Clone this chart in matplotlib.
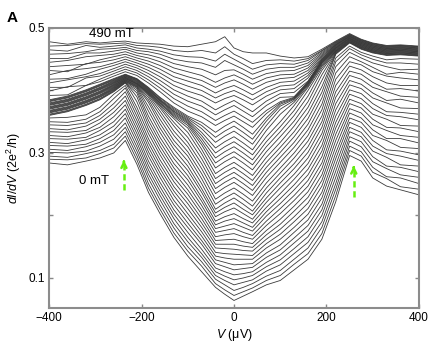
import numpy as np
import matplotlib
matplotlib.use("Agg")
from matplotlib import pyplot as plt

plt.rcParams['font.family'] = ['Liberation Sans', 'DejaVu Sans']
plt.rcParams['mathtext.fontset'] = 'custom'
plt.rcParams['mathtext.rm'] = 'Liberation Sans'
plt.rcParams['mathtext.it'] = 'Liberation Sans:italic'

# bias nodes (uV) and field of each trace (mT, 0..490 in 10 mT steps)
bias = [-400, -360, -320, -290, -260, -235, -210, -185, -160, -130, -100, -70, -40, -20,
        0, 20, 40, 70, 100, 130, 160, 190, 220, 250, 275, 300, 330, 360, 400]
fields = list(range(0, 500, 10))

# dI/dV (2e^2/h) of every trace at each bias node, lowest (0 mT) trace first
g_m400 = [0.284, 0.290, 0.295, 0.301, 0.306, 0.312, 0.317, 0.323, 0.328, 0.334,
          0.339, 0.345, 0.350, 0.356, 0.360, 0.361, 0.362, 0.364, 0.365, 0.366,
          0.367, 0.368, 0.370, 0.371, 0.372, 0.373, 0.374, 0.376, 0.377, 0.378,
          0.379, 0.380, 0.382, 0.383, 0.384, 0.385, 0.392, 0.399, 0.405, 0.412,
          0.418, 0.425, 0.432, 0.438, 0.445, 0.451, 0.458, 0.465, 0.471, 0.478]
g_m360 = [0.281, 0.289, 0.293, 0.300, 0.304, 0.311, 0.315, 0.322, 0.326, 0.333,
          0.337, 0.344, 0.349, 0.357, 0.366, 0.367, 0.368, 0.370, 0.371, 0.372,
          0.373, 0.374, 0.376, 0.377, 0.378, 0.379, 0.380, 0.382, 0.383, 0.384,
          0.385, 0.386, 0.388, 0.389, 0.390, 0.391, 0.393, 0.406, 0.405, 0.417,
          0.419, 0.432, 0.430, 0.440, 0.448, 0.451, 0.459, 0.463, 0.472, 0.474]
g_m320 = [0.287, 0.292, 0.299, 0.303, 0.310, 0.314, 0.321, 0.325, 0.332, 0.336,
          0.343, 0.348, 0.354, 0.361, 0.376, 0.377, 0.378, 0.380, 0.381, 0.382,
          0.383, 0.384, 0.386, 0.387, 0.388, 0.389, 0.390, 0.392, 0.393, 0.394,
          0.395, 0.396, 0.398, 0.399, 0.400, 0.401, 0.408, 0.408, 0.420, 0.422,
          0.426, 0.435, 0.443, 0.442, 0.454, 0.460, 0.462, 0.472, 0.475, 0.478]
g_m290 = [0.292, 0.299, 0.304, 0.311, 0.317, 0.323, 0.329, 0.336, 0.341, 0.348,
          0.354, 0.360, 0.366, 0.373, 0.385, 0.386, 0.387, 0.389, 0.390, 0.391,
          0.392, 0.393, 0.395, 0.396, 0.397, 0.398, 0.399, 0.401, 0.402, 0.403,
          0.404, 0.405, 0.407, 0.408, 0.409, 0.410, 0.414, 0.418, 0.423, 0.427,
          0.434, 0.438, 0.445, 0.449, 0.456, 0.460, 0.466, 0.469, 0.474, 0.476]
g_m260 = [0.300, 0.308, 0.314, 0.322, 0.329, 0.336, 0.343, 0.350, 0.358, 0.365,
          0.372, 0.379, 0.387, 0.394, 0.398, 0.399, 0.400, 0.401, 0.402, 0.403,
          0.404, 0.405, 0.406, 0.407, 0.408, 0.409, 0.410, 0.411, 0.412, 0.413,
          0.414, 0.415, 0.416, 0.417, 0.418, 0.419, 0.423, 0.427, 0.431, 0.435,
          0.440, 0.444, 0.449, 0.454, 0.458, 0.463, 0.467, 0.471, 0.475, 0.478]
g_m235 = [0.320, 0.327, 0.334, 0.341, 0.348, 0.356, 0.363, 0.370, 0.377, 0.384,
          0.391, 0.398, 0.404, 0.408, 0.412, 0.413, 0.413, 0.414, 0.415, 0.415,
          0.416, 0.417, 0.417, 0.418, 0.419, 0.419, 0.420, 0.421, 0.421, 0.422,
          0.423, 0.423, 0.424, 0.425, 0.425, 0.426, 0.430, 0.434, 0.438, 0.442,
          0.446, 0.450, 0.454, 0.458, 0.462, 0.466, 0.469, 0.473, 0.476, 0.479]
g_m210 = [0.282, 0.289, 0.296, 0.303, 0.310, 0.317, 0.324, 0.331, 0.338, 0.345,
          0.352, 0.359, 0.366, 0.373, 0.382, 0.390, 0.396, 0.400, 0.403, 0.405,
          0.406, 0.407, 0.408, 0.409, 0.410, 0.411, 0.411, 0.412, 0.413, 0.414,
          0.415, 0.416, 0.417, 0.418, 0.418, 0.419, 0.424, 0.428, 0.432, 0.436,
          0.440, 0.444, 0.448, 0.452, 0.456, 0.460, 0.464, 0.468, 0.472, 0.476]
g_m185 = [0.237, 0.244, 0.251, 0.259, 0.266, 0.273, 0.280, 0.287, 0.295, 0.302,
          0.309, 0.316, 0.323, 0.331, 0.338, 0.345, 0.352, 0.359, 0.367, 0.374,
          0.381, 0.385, 0.389, 0.392, 0.394, 0.395, 0.396, 0.397, 0.398, 0.399,
          0.400, 0.401, 0.402, 0.403, 0.404, 0.405, 0.412, 0.417, 0.422, 0.427,
          0.432, 0.437, 0.442, 0.447, 0.452, 0.457, 0.462, 0.466, 0.471, 0.475]
g_m160 = [0.203, 0.210, 0.217, 0.225, 0.232, 0.239, 0.246, 0.253, 0.261, 0.268,
          0.275, 0.282, 0.289, 0.297, 0.304, 0.311, 0.318, 0.325, 0.333, 0.340,
          0.347, 0.354, 0.361, 0.367, 0.372, 0.375, 0.377, 0.379, 0.380, 0.381,
          0.383, 0.384, 0.385, 0.386, 0.388, 0.389, 0.398, 0.404, 0.410, 0.416,
          0.422, 0.428, 0.434, 0.440, 0.446, 0.452, 0.458, 0.463, 0.469, 0.474]
g_m130 = [0.165, 0.172, 0.180, 0.187, 0.195, 0.202, 0.209, 0.217, 0.224, 0.232,
          0.239, 0.246, 0.254, 0.261, 0.269, 0.276, 0.283, 0.291, 0.298, 0.306,
          0.313, 0.320, 0.328, 0.335, 0.343, 0.349, 0.355, 0.358, 0.360, 0.362,
          0.364, 0.366, 0.367, 0.369, 0.371, 0.373, 0.380, 0.387, 0.394, 0.401,
          0.408, 0.415, 0.422, 0.429, 0.436, 0.443, 0.450, 0.457, 0.464, 0.471]
g_m100 = [0.135, 0.143, 0.150, 0.158, 0.165, 0.173, 0.181, 0.188, 0.196, 0.203,
          0.211, 0.219, 0.226, 0.234, 0.241, 0.249, 0.257, 0.264, 0.272, 0.279,
          0.287, 0.295, 0.302, 0.310, 0.317, 0.325, 0.333, 0.340, 0.344, 0.347,
          0.349, 0.351, 0.353, 0.355, 0.357, 0.359, 0.367, 0.375, 0.383, 0.391,
          0.399, 0.407, 0.415, 0.422, 0.430, 0.438, 0.446, 0.454, 0.462, 0.470]
g_m70 = [0.110, 0.119, 0.126, 0.133, 0.139, 0.146, 0.154, 0.160, 0.167, 0.174,
         0.181, 0.188, 0.195, 0.202, 0.209, 0.216, 0.223, 0.229, 0.237, 0.243,
         0.251, 0.259, 0.267, 0.275, 0.283, 0.291, 0.299, 0.306, 0.313, 0.318,
         0.323, 0.328, 0.333, 0.339, 0.344, 0.349, 0.358, 0.366, 0.375, 0.383,
         0.392, 0.400, 0.408, 0.416, 0.424, 0.434, 0.444, 0.453, 0.464, 0.474]
g_m40 = [0.085, 0.091, 0.098, 0.104, 0.110, 0.116, 0.123, 0.129, 0.135, 0.141,
         0.148, 0.154, 0.160, 0.166, 0.173, 0.179, 0.185, 0.191, 0.198, 0.204,
         0.210, 0.218, 0.226, 0.235, 0.243, 0.251, 0.259, 0.267, 0.276, 0.284,
         0.292, 0.300, 0.308, 0.317, 0.325, 0.333, 0.344, 0.352, 0.361, 0.369,
         0.380, 0.388, 0.396, 0.405, 0.413, 0.425, 0.437, 0.447, 0.460, 0.478]
g_m20 = [0.074, 0.081, 0.089, 0.096, 0.103, 0.110, 0.118, 0.125, 0.132, 0.139,
         0.147, 0.154, 0.161, 0.169, 0.176, 0.183, 0.191, 0.198, 0.206, 0.213,
         0.220, 0.228, 0.236, 0.245, 0.253, 0.261, 0.269, 0.277, 0.286, 0.294,
         0.302, 0.310, 0.318, 0.327, 0.335, 0.343, 0.352, 0.360, 0.369, 0.377,
         0.387, 0.395, 0.403, 0.412, 0.420, 0.432, 0.448, 0.458, 0.470, 0.486]
g_0 = [0.064, 0.072, 0.080, 0.089, 0.097, 0.105, 0.113, 0.121, 0.130, 0.138,
       0.146, 0.154, 0.162, 0.171, 0.179, 0.187, 0.195, 0.203, 0.212, 0.220,
       0.228, 0.236, 0.244, 0.253, 0.261, 0.269, 0.277, 0.285, 0.294, 0.302,
       0.310, 0.318, 0.326, 0.335, 0.343, 0.351, 0.359, 0.367, 0.376, 0.384,
       0.392, 0.400, 0.408, 0.417, 0.425, 0.433, 0.441, 0.450, 0.458, 0.468]
g_20 = [0.071, 0.078, 0.085, 0.093, 0.100, 0.107, 0.115, 0.122, 0.130, 0.137,
        0.144, 0.151, 0.158, 0.166, 0.173, 0.181, 0.188, 0.195, 0.203, 0.210,
        0.218, 0.226, 0.234, 0.243, 0.251, 0.259, 0.267, 0.275, 0.284, 0.292,
        0.300, 0.308, 0.316, 0.325, 0.333, 0.341, 0.350, 0.358, 0.367, 0.375,
        0.385, 0.393, 0.401, 0.410, 0.418, 0.426, 0.434, 0.442, 0.451, 0.462]
g_40 = [0.078, 0.084, 0.091, 0.097, 0.104, 0.110, 0.117, 0.123, 0.130, 0.136,
        0.143, 0.149, 0.155, 0.162, 0.168, 0.175, 0.181, 0.188, 0.194, 0.201,
        0.207, 0.215, 0.223, 0.232, 0.240, 0.248, 0.256, 0.264, 0.273, 0.281,
        0.289, 0.297, 0.305, 0.314, 0.322, 0.330, 0.341, 0.349, 0.358, 0.366,
        0.377, 0.385, 0.393, 0.402, 0.410, 0.418, 0.426, 0.434, 0.443, 0.460]
g_70 = [0.089, 0.096, 0.103, 0.111, 0.118, 0.125, 0.133, 0.140, 0.148, 0.155,
        0.162, 0.169, 0.176, 0.184, 0.191, 0.199, 0.206, 0.213, 0.221, 0.228,
        0.236, 0.244, 0.252, 0.261, 0.269, 0.277, 0.285, 0.293, 0.302, 0.310,
        0.318, 0.326, 0.336, 0.344, 0.351, 0.356, 0.363, 0.368, 0.376, 0.383,
        0.391, 0.398, 0.405, 0.413, 0.420, 0.427, 0.434, 0.441, 0.448, 0.460]
g_100 = [0.096, 0.104, 0.112, 0.121, 0.129, 0.137, 0.145, 0.153, 0.162, 0.170,
         0.178, 0.186, 0.194, 0.203, 0.211, 0.219, 0.227, 0.235, 0.244, 0.252,
         0.260, 0.268, 0.276, 0.285, 0.293, 0.301, 0.309, 0.317, 0.326, 0.334,
         0.342, 0.350, 0.362, 0.370, 0.375, 0.378, 0.380, 0.382, 0.389, 0.395,
         0.401, 0.407, 0.413, 0.419, 0.425, 0.431, 0.437, 0.443, 0.449, 0.455]
g_130 = [0.113, 0.122, 0.130, 0.139, 0.147, 0.156, 0.164, 0.173, 0.181, 0.190,
         0.198, 0.207, 0.215, 0.224, 0.232, 0.241, 0.249, 0.258, 0.266, 0.275,
         0.283, 0.292, 0.300, 0.309, 0.317, 0.326, 0.334, 0.343, 0.351, 0.360,
         0.368, 0.376, 0.381, 0.384, 0.386, 0.387, 0.388, 0.389, 0.390, 0.397,
         0.403, 0.409, 0.415, 0.421, 0.426, 0.432, 0.437, 0.442, 0.447, 0.452]
g_160 = [0.130, 0.139, 0.148, 0.157, 0.166, 0.175, 0.184, 0.193, 0.202, 0.211,
         0.220, 0.229, 0.238, 0.247, 0.256, 0.265, 0.274, 0.283, 0.292, 0.301,
         0.310, 0.319, 0.328, 0.337, 0.346, 0.355, 0.364, 0.373, 0.382, 0.391,
         0.400, 0.405, 0.407, 0.409, 0.410, 0.411, 0.412, 0.413, 0.414, 0.415,
         0.420, 0.424, 0.428, 0.432, 0.436, 0.440, 0.444, 0.448, 0.451, 0.454]
g_190 = [0.162, 0.171, 0.181, 0.190, 0.200, 0.209, 0.218, 0.228, 0.237, 0.247,
         0.256, 0.265, 0.275, 0.284, 0.294, 0.303, 0.312, 0.322, 0.331, 0.341,
         0.350, 0.359, 0.369, 0.378, 0.388, 0.397, 0.406, 0.416, 0.425, 0.432,
         0.436, 0.439, 0.441, 0.443, 0.444, 0.445, 0.446, 0.447, 0.448, 0.449,
         0.450, 0.451, 0.453, 0.455, 0.457, 0.459, 0.461, 0.463, 0.464, 0.466]
g_220 = [0.222, 0.232, 0.242, 0.251, 0.261, 0.271, 0.281, 0.291, 0.300, 0.310,
         0.320, 0.330, 0.340, 0.349, 0.359, 0.369, 0.379, 0.389, 0.398, 0.408,
         0.418, 0.428, 0.438, 0.446, 0.452, 0.458, 0.459, 0.460, 0.461, 0.462,
         0.463, 0.463, 0.464, 0.465, 0.466, 0.467, 0.468, 0.468, 0.469, 0.470,
         0.471, 0.472, 0.473, 0.473, 0.474, 0.475, 0.476, 0.477, 0.478, 0.479]
g_250 = [0.296, 0.304, 0.311, 0.319, 0.326, 0.334, 0.341, 0.349, 0.356, 0.364,
         0.371, 0.379, 0.386, 0.394, 0.401, 0.409, 0.416, 0.424, 0.431, 0.439,
         0.446, 0.454, 0.461, 0.467, 0.471, 0.476, 0.477, 0.477, 0.478, 0.478,
         0.479, 0.480, 0.480, 0.481, 0.481, 0.482, 0.483, 0.483, 0.484, 0.484,
         0.485, 0.486, 0.486, 0.487, 0.487, 0.488, 0.489, 0.489, 0.490, 0.491]
g_275 = [0.287, 0.295, 0.302, 0.310, 0.318, 0.326, 0.333, 0.341, 0.349, 0.356,
         0.364, 0.372, 0.379, 0.387, 0.395, 0.403, 0.410, 0.418, 0.426, 0.433,
         0.441, 0.446, 0.452, 0.457, 0.461, 0.466, 0.467, 0.467, 0.468, 0.469,
         0.469, 0.470, 0.471, 0.471, 0.472, 0.473, 0.473, 0.474, 0.475, 0.475,
         0.476, 0.477, 0.477, 0.478, 0.479, 0.479, 0.480, 0.481, 0.481, 0.482]
g_300 = [0.260, 0.269, 0.277, 0.286, 0.294, 0.303, 0.311, 0.320, 0.328, 0.337,
         0.345, 0.354, 0.362, 0.371, 0.379, 0.388, 0.396, 0.405, 0.413, 0.422,
         0.430, 0.437, 0.444, 0.450, 0.455, 0.460, 0.461, 0.461, 0.462, 0.463,
         0.463, 0.464, 0.465, 0.465, 0.466, 0.467, 0.467, 0.468, 0.469, 0.469,
         0.470, 0.471, 0.471, 0.472, 0.473, 0.473, 0.474, 0.475, 0.475, 0.476]
g_330 = [0.247, 0.259, 0.262, 0.275, 0.279, 0.293, 0.299, 0.305, 0.320, 0.323,
         0.336, 0.341, 0.354, 0.360, 0.366, 0.380, 0.384, 0.398, 0.402, 0.412,
         0.423, 0.426, 0.438, 0.444, 0.449, 0.456, 0.457, 0.457, 0.458, 0.459,
         0.459, 0.460, 0.461, 0.461, 0.462, 0.463, 0.463, 0.464, 0.465, 0.465,
         0.466, 0.467, 0.467, 0.468, 0.469, 0.469, 0.470, 0.471, 0.471, 0.472]
g_360 = [0.241, 0.246, 0.260, 0.265, 0.277, 0.281, 0.295, 0.303, 0.309, 0.323,
         0.328, 0.340, 0.344, 0.358, 0.365, 0.372, 0.386, 0.391, 0.403, 0.408,
         0.420, 0.429, 0.433, 0.444, 0.451, 0.457, 0.458, 0.458, 0.459, 0.460,
         0.460, 0.461, 0.462, 0.462, 0.463, 0.464, 0.464, 0.465, 0.466, 0.466,
         0.467, 0.468, 0.468, 0.469, 0.470, 0.470, 0.471, 0.472, 0.472, 0.473]
g_400 = [0.233, 0.242, 0.251, 0.261, 0.270, 0.279, 0.288, 0.297, 0.307, 0.316,
         0.325, 0.334, 0.343, 0.353, 0.362, 0.371, 0.380, 0.389, 0.399, 0.408,
         0.417, 0.426, 0.434, 0.442, 0.450, 0.455, 0.456, 0.456, 0.457, 0.458,
         0.458, 0.459, 0.460, 0.460, 0.461, 0.462, 0.462, 0.463, 0.464, 0.464,
         0.465, 0.466, 0.466, 0.467, 0.468, 0.468, 0.469, 0.470, 0.470, 0.471]

# green arrows marking the coherence peaks of the 0 mT trace: (V, tail, tip)
arrow_left = (-238, 0.240, 0.293)
arrow_right = (259, 0.229, 0.284)

table = np.array([g_m400, g_m360, g_m320, g_m290, g_m260, g_m235, g_m210, g_m185,
                  g_m160, g_m130, g_m100, g_m70, g_m40, g_m20, g_0, g_20, g_40,
                  g_70, g_100, g_130, g_160, g_190, g_220, g_250, g_275, g_300,
                  g_330, g_360, g_400])

fig = plt.figure(figsize=(4.36, 3.54), dpi=100)
ax = fig.add_axes([0.1124, 0.130, 0.8486, 0.791])

for k in range(len(fields)):
    ax.plot(bias, table[:, k], color='#3a3a3a', lw=0.6)

ax.set_xlim(-400, 400)
ax.set_ylim(0.052, 0.5)
ax.set_xticks([-400, -200, 0, 200, 400])
ax.set_yticks([0.1, 0.2, 0.3, 0.4, 0.5])
ax.set_yticklabels(['0.1', '', '0.3', '', '0.5'])
ax.tick_params(direction='in', length=3, width=1, color='#888888',
               labelsize=8.5, top=True, right=True, pad=3)
for s in ax.spines.values():
    s.set_color('#8c8c8c')
    s.set_linewidth(1.5)

ax.set_xlabel(r'$V$ (μV)', fontsize=9, labelpad=2)
ax.set_ylabel(r'$dI/dV$ (2e$^2$/h)', fontsize=9, labelpad=4)

ax.text(-266, 0.491, '490 mT', fontsize=9.5, ha='center', va='center')
ax.text(-303, 0.255, '0 mT', fontsize=9.5, ha='center', va='center')
fig.text(0.028, 0.95, 'A', fontsize=11, fontweight='bold', ha='center', va='center')

for v, y0, y1 in [arrow_left, arrow_right]:
    ax.plot([v, v], [y0, y1 - 0.006], color='#66ee11', lw=1.8, ls=(0, (2.5, 1.5)))
    ax.annotate('', xy=(v, y1), xytext=(v, y1 - 0.012),
                arrowprops=dict(arrowstyle='->', color='#66ee11', lw=1.8,
                                mutation_scale=9))

fig.savefig('out.png', dpi=100)
